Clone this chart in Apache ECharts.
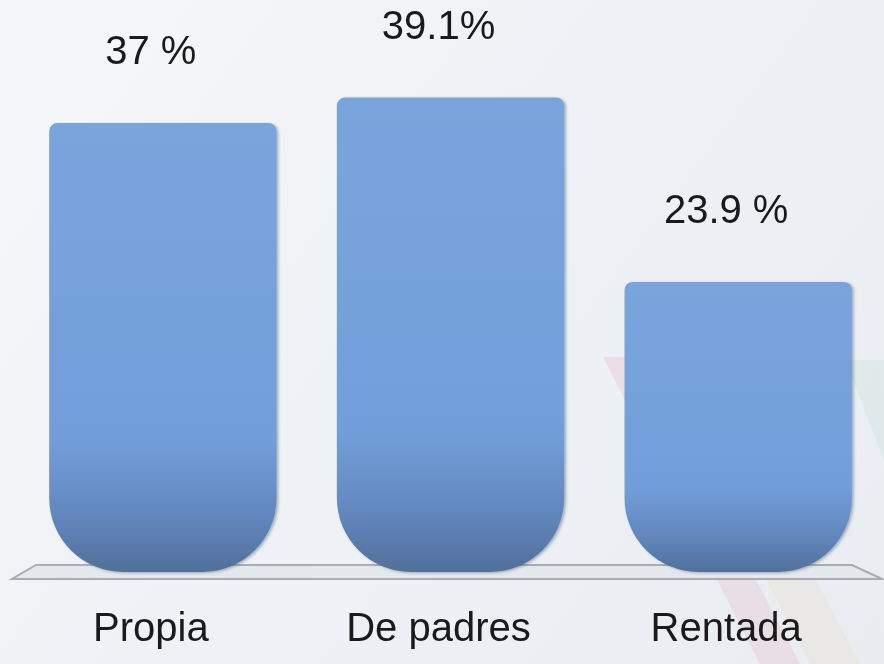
<!DOCTYPE html>
<html>
<head>
<meta charset="utf-8">
<script src="https://cdn.jsdelivr.net/npm/echarts@6/dist/echarts.min.js"></script>
<style>
html,body{margin:0;padding:0;}
#chart{width:884px;height:664px;}
</style>
</head>
<body>
<div id="chart"></div>
<script>
const categories = ['Propia', 'De padres', 'Rentada'];
const values = [37, 39.1, 23.9];
const valueLabels = ['37 %', '39.1%', '23.9 %'];

const FONT = "'Liberation Sans Narrow', 'Arial Narrow', 'Liberation Sans', sans-serif";
const chart = echarts.init(document.getElementById('chart'));

const gridTop = 26, gridBottom = 92, gridLeft = 19, gridRight = 2;
const floorY = 664 - gridBottom;

chart.setOption({
  backgroundColor: {
    type: 'linear', x: 0, y: 0, x2: 1, y2: 1,
    colorStops: [
      { offset: 0, color: '#f6f7f9' },
      { offset: 0.5, color: '#eef1f5' },
      { offset: 1, color: '#e9edf2' }
    ]
  },
  animation: false,
  graphic: {
    elements: [
      { type: 'polygon', z: 0, silent: true,
        shape: { points: [[603, 357], [640, 357], [800, 664], [760, 664]] },
        style: { fill: 'rgba(230,150,160,0.18)' } },
      { type: 'polygon', z: 0, silent: true,
        shape: { points: [[650, 357], [700, 357], [860, 664], [810, 664]] },
        style: { fill: 'rgba(235,200,150,0.15)' } },
      { type: 'polygon', z: 0, silent: true,
        shape: { points: [[845, 360], [884, 360], [884, 664], [884, 664], [884, 460]] },
        style: { fill: 'rgba(160,210,180,0.15)' } },
      { type: 'polygon', z: 1, silent: true,
        shape: { points: [[36, floorY - 7], [852, floorY - 7], [882, floorY + 7], [12, floorY + 7]] },
        style: { fill: '#e4e7eb', stroke: '#a9adb2', lineWidth: 2 } }
    ]
  },
  grid: { left: gridLeft, right: gridRight, top: gridTop, bottom: gridBottom, containLabel: false },
  xAxis: {
    type: 'category',
    data: categories,
    axisLine: { show: false },
    axisTick: { show: false },
    axisLabel: {
      margin: 38,
      color: '#1a1a1a',
      fontFamily: FONT,
      fontSize: 40,
      padding: [0, 24, 0, 0]
    }
  },
  yAxis: {
    type: 'value',
    min: 0,
    max: 45,
    show: false,
    splitLine: { show: false }
  },
  series: [{
    type: 'bar',
    data: values,
    barWidth: '79%',
    z: 3,
    itemStyle: {
      borderRadius: [8, 8, 74, 74],
      color: {
        type: 'linear', x: 0, y: 0, x2: 0, y2: 1,
        colorStops: [
          { offset: 0, color: '#7aa4dc' },
          { offset: 0.7, color: '#729fda' },
          { offset: 0.87, color: '#6388bf' },
          { offset: 1, color: '#51709b' }
        ]
      },
      shadowColor: 'rgba(40,50,70,0.35)',
      shadowBlur: 3,
      shadowOffsetX: 2,
      shadowOffsetY: 1
    },
    label: {
      show: true,
      position: 'top',
      distance: 50,
      offset: [-12, 0],
      color: '#1a1a1a',
      fontFamily: FONT,
      fontSize: 40,
      formatter: p => valueLabels[p.dataIndex]
    }
  }]
});
</script>
</body>
</html>
